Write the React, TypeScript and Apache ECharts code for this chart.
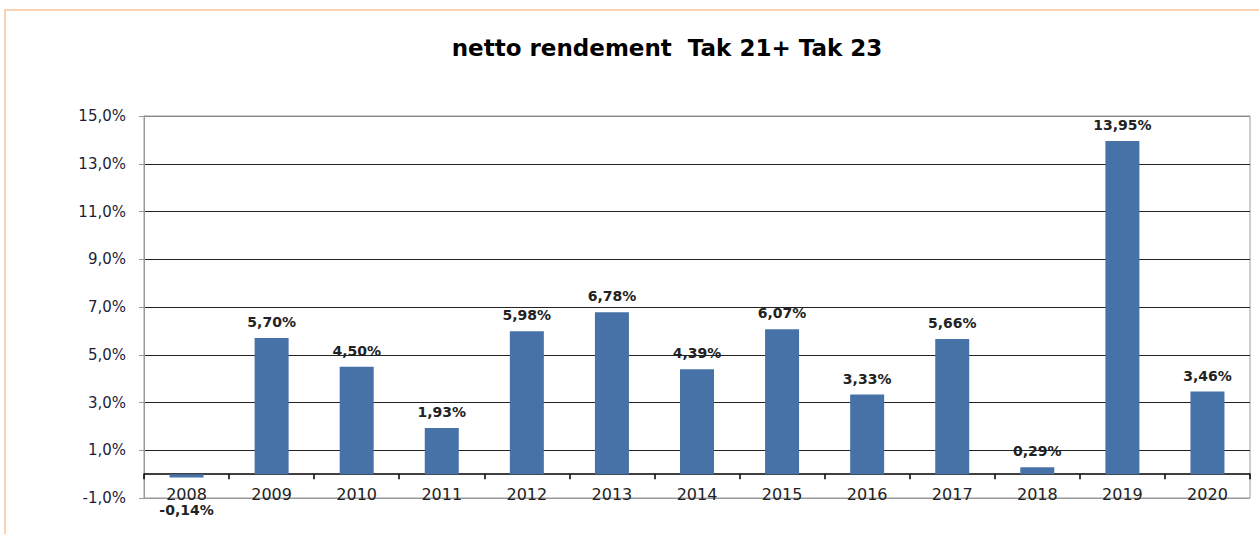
import React, { useEffect, useRef } from "react";
import * as echarts from "echarts";

const categories = ["2008", "2009", "2010", "2011", "2012", "2013", "2014", "2015", "2016", "2017", "2018", "2019", "2020"];
const values = [-0.14, 5.7, 4.5, 1.93, 5.98, 6.78, 4.39, 6.07, 3.33, 5.66, 0.29, 13.95, 3.46];
const yTicks = [-1, 1, 3, 5, 7, 9, 11, 13, 15];
const titleText = "netto rendement  Tak 21+ Tak 23";

const fmt = (v: number, d: number) => v.toFixed(d).replace(".", ",") + "%";

export default function App() {
  const ref = useRef<HTMLDivElement>(null);
  useEffect(() => {
    if (!ref.current) return;
    const chart = echarts.init(ref.current, null, { renderer: "svg" });
    const font = "'DejaVu Sans', sans-serif";
    chart.setOption({
      animation: false,
      backgroundColor: "#ffffff",
      title: {
        text: titleText,
        left: 662,
        top: 31,
        textAlign: "center",
        textStyle: { fontFamily: font, fontSize: 23, fontWeight: "bold", color: "#000" },
      },
      graphic: [
        {
          type: "rect",
          shape: { x: 5, y: 10, width: 1400, height: 700 },
          style: { fill: "none", stroke: "#f8c49c", lineWidth: 1.5 },
          silent: true,
          z: 0,
        },
      ],
      grid: {
        left: 144,
        right: 9,
        top: 116,
        bottom: 36,
        show: true,
        borderColor: "#999",
        borderWidth: 1,
      },
      xAxis: {
        type: "category",
        data: categories,
        axisLine: { onZero: true, lineStyle: { color: "#000", width: 1.5 } },
        axisTick: { show: true, length: 5, alignWithLabel: false, lineStyle: { color: "#000", width: 1.5 } },
        axisLabel: { margin: -12, fontFamily: font, fontSize: 16, color: "#222" },
        splitLine: { show: false },
      },
      yAxis: {
        type: "value",
        min: -1,
        max: 15,
        axisLine: { show: true, lineStyle: { color: "#999" } },
        axisTick: { show: true, length: 5, customValues: yTicks, lineStyle: { color: "#999" } },
        axisLabel: {
          customValues: yTicks,
          margin: 18,
          fontFamily: font,
          fontSize: 15,
          color: "#1e1e3a",
          formatter: (v: number) => fmt(v, 1),
        },
        splitLine: {
          show: true,
          lineStyle: {
            color: ["#999", "#222", "#222", "#222", "#222", "#222", "#222", "#222", "#888"],
            width: 1,
          },
        },
      },
      series: [
        {
          type: "bar",
          barWidth: 34,
          data: values.map((v) => ({
            value: v,
            label: v < 0 ? { position: "bottom", distance: 26 } : undefined,
          })),
          itemStyle: { color: "#4672a8" },
          label: {
            show: true,
            position: "top",
            distance: 9,
            fontFamily: font,
            fontSize: 14,
            fontWeight: "bold",
            color: "#222",
            formatter: (p: any) => fmt(p.value, 2),
          },
        },
      ],
    });
    return () => chart.dispose();
  }, []);
  return (
    <div
      ref={ref}
      style={{ position: "absolute", left: 0, top: 0, width: 1259, height: 534 }}
    />
  );
}
